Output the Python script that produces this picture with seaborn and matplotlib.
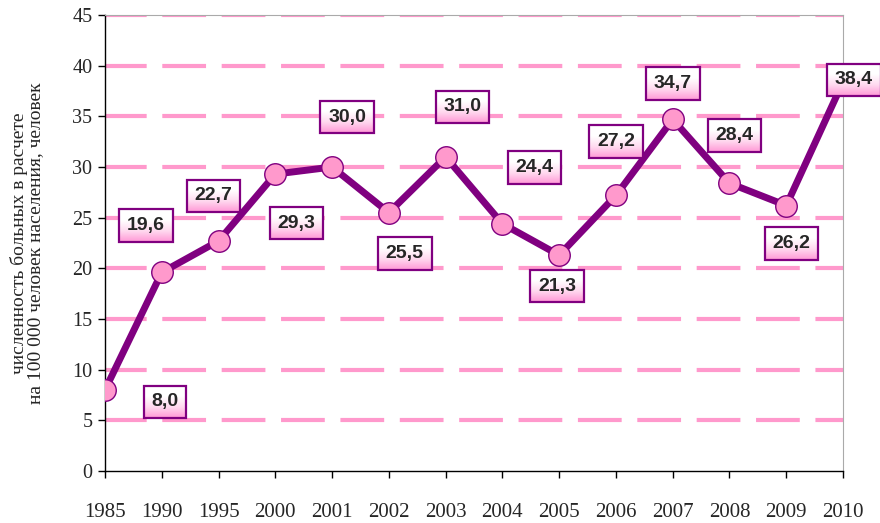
import numpy as np
import pandas as pd
import matplotlib
matplotlib.use("Agg")
import matplotlib.pyplot as plt
from matplotlib.colors import LinearSegmentedColormap
import seaborn as sns

years = ['1985', '1990', '1995', '2000', '2001', '2002', '2003',
         '2004', '2005', '2006', '2007', '2008', '2009', '2010']
values = [8.0, 19.6, 22.7, 29.3, 30.0, 25.5, 31.0,
          24.4, 21.3, 27.2, 34.7, 28.4, 26.2, 38.4]
# label box offsets from each point, in pixels (dx, dy)
label_offsets = [(60, -12), (-16, 47), (-5, 45), (21, -49), (15, 50), (16, -41), (17, 50),
                 (32, 56), (-2, -31), (0, 54), (0, 36), (5, 48), (5, -38), (11, 2)]

y_ticks = [0, 5, 10, 15, 20, 25, 30, 35, 40, 45]
y_label = 'численность больных в расчете\nна 100 000 человек населения, человек'

purple = '#800080'
pink = '#FF99CC'

df = pd.DataFrame({'year': years, 'value': values})

sns.set_style('white')
plt.rcParams['font.family'] = ['Liberation Serif', 'DejaVu Serif']

fig = plt.figure(figsize=(8.8, 5.23), dpi=100)
ax = fig.add_axes([0.1193, 0.0994, 0.8387, 0.8719])

# dashed pink gridlines
for yv in y_ticks[1:]:
    ax.axhline(yv, color=pink, lw=3, linestyle=(0.5, (10.5, 3.75)), zorder=1)

sns.lineplot(data=df, x='year', y='value', ax=ax, color=purple, lw=5,
             marker='o', markersize=15.5, markerfacecolor=pink,
             markeredgecolor=purple, markeredgewidth=1, zorder=3)

ax.set_xlim(0, len(years) - 1)
ax.set_ylim(0, 45)
ax.set_yticks(y_ticks)
ax.set_yticklabels([str(t) for t in y_ticks], fontsize=14.5)
ax.set_xticks(range(len(years)))
ax.set_xticklabels(years, fontsize=15)
ax.tick_params(axis='x', direction='out', length=5, width=1, color='black', pad=18, bottom=True)
ax.tick_params(axis='y', direction='out', length=5, width=1, color='black', pad=4, left=True)
ax.set_xlabel('')
ax.set_ylabel(y_label, fontsize=14, linespacing=0.95, labelpad=20)

for side in ['left', 'bottom']:
    ax.spines[side].set_color('black')
    ax.spines[side].set_linewidth(1)
for side in ['top', 'right']:
    ax.spines[side].set_color('#AAAAAA')
    ax.spines[side].set_linewidth(0.8)

labels = []
for i, (v, (dx, dy)) in enumerate(zip(values, label_offsets)):
    t = ax.annotate(f'{v:.1f}'.replace('.', ','), xy=(i, v), xytext=(dx, dy),
                    textcoords='offset pixels', ha='center', va='center',
                    fontsize=14, fontweight='bold', family=['Liberation Sans', 'DejaVu Sans'],
                    bbox=dict(boxstyle='square,pad=0.4', facecolor='none',
                              edgecolor=purple, linewidth=1.6),
                    zorder=6, annotation_clip=False)
    labels.append(t)

# pink-to-white gradient behind each label box
fig.canvas.draw()
renderer = fig.canvas.get_renderer()
grad_cmap = LinearSegmentedColormap.from_list('pinkgrad', ['#FF99D6', '#FFD9EF', '#FFFFFF', '#FFFFFF'])
grad = np.linspace(0, 1, 64).reshape(-1, 1)
inv = ax.transData.inverted()
for t in labels:
    bb = t.get_bbox_patch().get_window_extent(renderer)
    (x0, y0), (x1, y1) = inv.transform([[bb.x0, bb.y0], [bb.x1, bb.y1]])
    ax.imshow(grad, cmap=grad_cmap, origin='lower', extent=[x0, x1, y0, y1],
              aspect='auto', zorder=5, clip_on=False, interpolation='bilinear')

ax.set_xlim(0, len(years) - 1)
ax.set_ylim(0, 45)

fig.savefig('out.png', dpi=100)
